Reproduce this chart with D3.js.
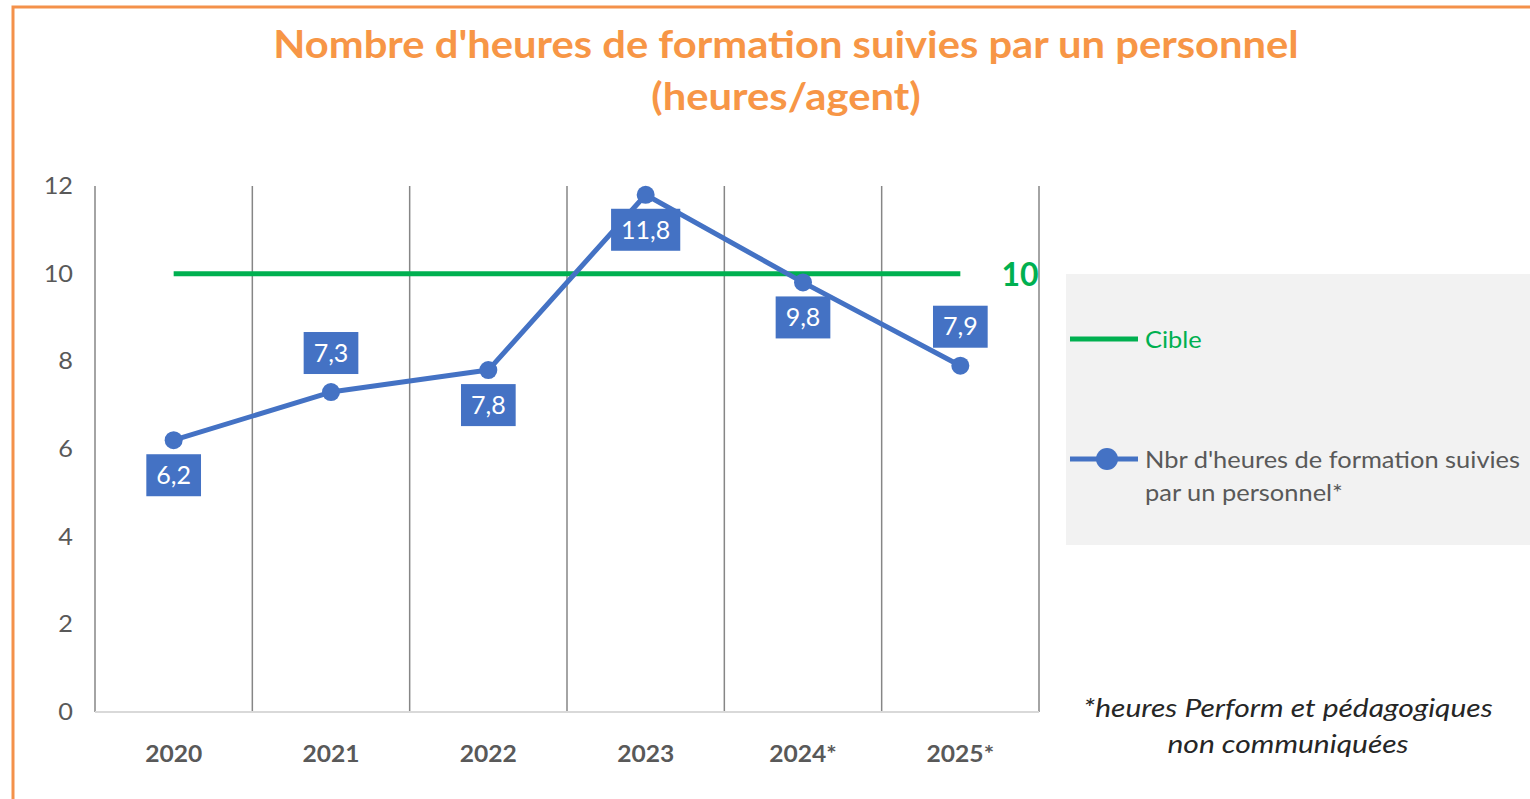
<!DOCTYPE html>
<html lang="fr">

<head>
    <meta charset="UTF-8">
    <title>Heures de formation</title>
    <script src="https://d3js.org/d3.v7.min.js"></script>
    <style>
        body {
            margin: 0;
            background: #fff;
        }

        svg text {
            font-family: Lato, "Open Sans", sans-serif;
        }

        .grid line {
            stroke: #868686;
            stroke-width: 1.5px;
        }
    </style>
</head>

<body>
    <script>
        // data
        const years = ["2020", "2021", "2022", "2023", "2024*", "2025*"];
        const heures = [6.2, 7.3, 7.8, 11.8, 9.8, 7.9];
        const labelSide = ["below", "above", "below", "below", "below", "above"];
        const cible = 10;
        const yTicks = [0, 2, 4, 6, 8, 10, 12];

        const W = 1530, H = 799;
        const svg = d3.select("body").append("svg")
            .attr("width", W)
            .attr("height", H);

        // the original font is wider than Lato, so text gets stretched a bit
        function stretchText(parent, x, y, sx, anchor) {
            return parent.append("g")
                .attr("transform", "translate(" + x + "," + y + ") scale(" + sx + ",1)")
                .append("text")
                .attr("text-anchor", anchor || "start");
        }

        // orange frame (runs off the right/bottom)
        svg.append("rect")
            .attr("x", 13).attr("y", 7)
            .attr("width", W).attr("height", H)
            .attr("fill", "none")
            .attr("stroke", "#F4914A")
            .attr("stroke-width", 3);

        // title
        const title = stretchText(svg, 786, 0, 1.07, "middle")
            .attr("fill", "#F79646")
            .attr("font-weight", "bold")
            .attr("font-size", "39px");
        title.append("tspan").attr("x", 0).attr("y", 58)
            .text("Nombre d'heures de formation suivies par un personnel");
        title.append("tspan").attr("x", 0).attr("y", 110)
            .text("(heures/agent)");

        // scales
        const x = d3.scaleBand().domain(years).range([95, 1039]).padding(0);
        const y = d3.scaleLinear().domain([0, 12]).range([712, 186]);
        const cx = d => x(d) + x.bandwidth() / 2;

        // vertical category separators
        const bounds = years.map(d => x(d)).concat([x.range()[1]]);
        svg.append("g").attr("class", "grid")
            .selectAll("line")
            .data(bounds)
            .enter().append("line")
            .attr("x1", d => d).attr("x2", d => d)
            .attr("y1", y(12)).attr("y2", y(0));

        // bottom axis line
        svg.append("line")
            .attr("x1", 95).attr("x2", 1039)
            .attr("y1", y(0)).attr("y2", y(0))
            .attr("stroke", "#d9d9d9")
            .attr("stroke-width", 2);

        // y axis labels
        yTicks.forEach(t => {
            stretchText(svg, 73, y(t), 1.1, "end")
                .attr("dy", "0.35em")
                .attr("fill", "#595959")
                .attr("font-size", "23px")
                .text(t);
        });

        // x axis labels
        years.forEach(c => {
            stretchText(svg, cx(c), y(0) + 50, 1.07, "middle")
                .attr("fill", "#595959")
                .attr("font-weight", "bold")
                .attr("font-size", "23px")
                .text(c);
        });

        // target line
        svg.append("line")
            .attr("x1", cx(years[0])).attr("x2", cx(years[years.length - 1]))
            .attr("y1", y(cible)).attr("y2", y(cible))
            .attr("stroke", "#00B050")
            .attr("stroke-width", 5);
        svg.append("text")
            .attr("x", 1020).attr("y", y(cible) + 12)
            .attr("text-anchor", "middle")
            .attr("fill", "#00B050")
            .attr("font-weight", "bold")
            .attr("font-size", "32px")
            .text(cible);

        // series line
        const line = d3.line()
            .x((d, i) => cx(years[i]))
            .y(d => y(d));
        svg.append("path")
            .datum(heures)
            .attr("fill", "none")
            .attr("stroke", "#4472C4")
            .attr("stroke-width", 5)
            .attr("stroke-linejoin", "round")
            .attr("d", line);

        svg.selectAll(".dot")
            .data(heures)
            .enter().append("circle")
            .attr("class", "dot")
            .attr("cx", (d, i) => cx(years[i]))
            .attr("cy", d => y(d))
            .attr("r", 9)
            .attr("fill", "#4472C4");

        // data labels
        const lab = svg.selectAll(".lab")
            .data(heures)
            .enter().append("g")
            .attr("class", "lab")
            .attr("transform", (d, i) => {
                const off = labelSide[i] === "above" ? -39 : 35;
                return "translate(" + cx(years[i]) + "," + (y(d) + off) + ")";
            });
        lab.append("text")
            .attr("text-anchor", "middle")
            .attr("dy", "0.35em")
            .attr("fill", "#fff")
            .attr("font-size", "25px")
            .text(d => String(d).replace(".", ","));
        lab.each(function () {
            const g = d3.select(this);
            const w = g.select("text").node().getComputedTextLength() + 20;
            g.insert("rect", "text")
                .attr("x", -w / 2).attr("y", -21)
                .attr("width", w).attr("height", 42)
                .attr("fill", "#4472C4");
        });

        // legend
        svg.append("rect")
            .attr("x", 1066).attr("y", 274)
            .attr("width", 480).attr("height", 271)
            .attr("fill", "#F2F2F2");
        svg.append("line")
            .attr("x1", 1070).attr("x2", 1138)
            .attr("y1", 339).attr("y2", 339)
            .attr("stroke", "#00B050").attr("stroke-width", 5);
        stretchText(svg, 1145, 0, 1.06)
            .attr("y", 348)
            .attr("fill", "#00B050")
            .attr("font-size", "24px")
            .text("Cible");
        svg.append("line")
            .attr("x1", 1070).attr("x2", 1138)
            .attr("y1", 459).attr("y2", 459)
            .attr("stroke", "#4472C4").attr("stroke-width", 5);
        svg.append("circle")
            .attr("cx", 1107).attr("cy", 459).attr("r", 11)
            .attr("fill", "#4472C4");
        const leg = stretchText(svg, 1145, 0, 1.06)
            .attr("fill", "#595959")
            .attr("font-size", "24px");
        leg.append("tspan").attr("x", 0).attr("y", 468)
            .text("Nbr d'heures de formation suivies");
        leg.append("tspan").attr("x", 0).attr("y", 501)
            .text("par un personnel*");

        // footnote
        const note = stretchText(svg, 1288, 0, 1.2, "middle")
            .attr("fill", "#262626")
            .attr("font-style", "italic")
            .attr("font-size", "25px");
        note.append("tspan").attr("x", 0).attr("y", 717)
            .text("*heures Perform et pédagogiques");
        note.append("tspan").attr("x", 0).attr("y", 753)
            .text("non communiquées");
    </script>
</body>

</html>
